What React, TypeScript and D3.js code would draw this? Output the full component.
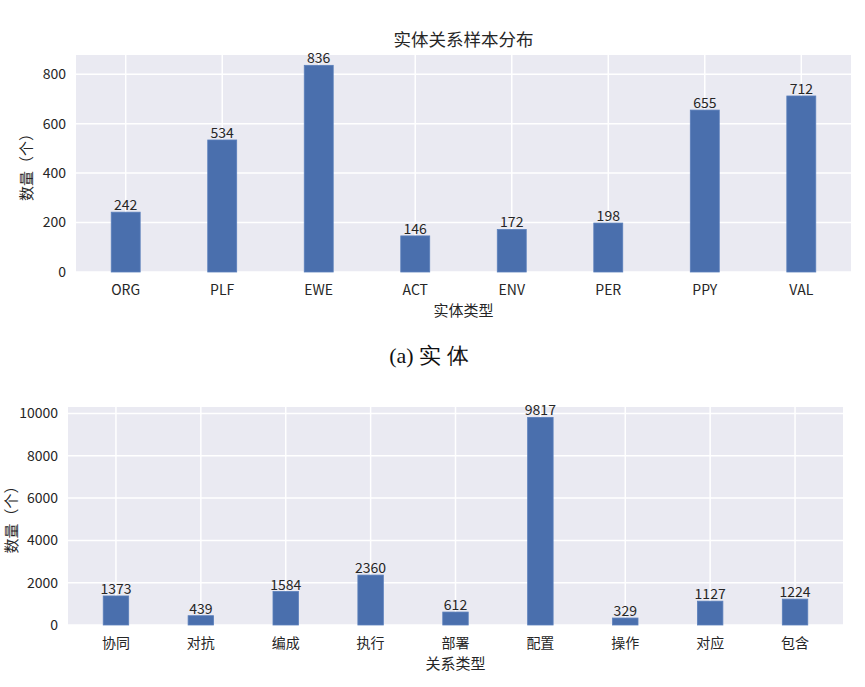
import * as d3 from "d3";
import { useEffect, useRef } from "react";

// 实体
const entityTypes = ["ORG", "PLF", "EWE", "ACT", "ENV", "PER", "PPY", "VAL"];
const entityCounts = [242, 534, 836, 146, 172, 198, 655, 712];
const entityTicks = [0, 200, 400, 600, 800];

// 关系
const relationTypes = ["协同", "对抗", "编成", "执行", "部署", "配置", "操作", "对应", "包含"];
const relationCounts = [1373, 439, 1584, 2360, 612, 9817, 329, 1127, 1224];
const relationTicks = [0, 2000, 4000, 6000, 8000, 10000];

const FONT = "'Noto Sans CJK SC', 'Noto Sans', sans-serif";
const BG = "#eaeaf2";
const BAR = "#4a6fad";
const TXT = "#262626";

const drawPanel = (svg, opt) => {
    const { cats, vals, ticks, box, title, xLabel, yLabel, yLabelX } = opt;
    const barW = 0.3;
    const lo = -barW / 2, hi = cats.length - 1 + barW / 2;
    const pad = (hi - lo) * 0.05;

    const x = d3.scaleLinear().domain([lo - pad, hi + pad]).range([box.left, box.right]);
    const y = d3.scaleLinear().domain([0, d3.max(vals) * 1.05]).range([box.bottom, box.top]);

    const g = svg.append("g");

    g.append("rect")
        .attr("x", box.left)
        .attr("y", box.top)
        .attr("width", box.right - box.left)
        .attr("height", box.bottom - box.top)
        .attr("fill", BG);

    // grid
    g.selectAll(".hgrid")
        .data(ticks)
        .enter()
        .append("line")
        .attr("x1", box.left)
        .attr("x2", box.right)
        .attr("y1", d => y(d))
        .attr("y2", d => y(d))
        .attr("stroke", "#fff")
        .attr("stroke-width", 1.5);

    g.selectAll(".vgrid")
        .data(cats)
        .enter()
        .append("line")
        .attr("x1", (d, i) => x(i))
        .attr("x2", (d, i) => x(i))
        .attr("y1", box.top)
        .attr("y2", box.bottom)
        .attr("stroke", "#fff")
        .attr("stroke-width", 1.5);

    // bars
    g.selectAll(".bar")
        .data(vals)
        .enter()
        .append("rect")
        .attr("x", (d, i) => x(i - barW / 2))
        .attr("y", d => y(d))
        .attr("width", x(barW) - x(0))
        .attr("height", d => y(0) - y(d))
        .attr("fill", BAR)
        .attr("stroke", "#5a7fbb")
        .attr("stroke-width", 0.8);

    // value labels
    g.selectAll(".val")
        .data(vals)
        .enter()
        .append("text")
        .attr("x", (d, i) => x(i))
        .attr("y", d => y(d) - 2)
        .attr("text-anchor", "middle")
        .attr("font-size", 14)
        .attr("fill", TXT)
        .text(d => d);

    // y tick labels
    g.selectAll(".ytick")
        .data(ticks)
        .enter()
        .append("text")
        .attr("x", box.left - 10)
        .attr("y", d => y(d))
        .attr("dy", "0.35em")
        .attr("text-anchor", "end")
        .attr("font-size", 14)
        .attr("fill", TXT)
        .text(d => d);

    // x tick labels
    g.selectAll(".xtick")
        .data(cats)
        .enter()
        .append("text")
        .attr("x", (d, i) => x(i))
        .attr("y", box.bottom + 23)
        .attr("text-anchor", "middle")
        .attr("font-size", 14)
        .attr("fill", TXT)
        .text(d => d);

    const midX = (box.left + box.right) / 2;
    const midY = (box.top + box.bottom) / 2;

    g.append("text")
        .attr("x", midX)
        .attr("y", box.bottom + 44)
        .attr("text-anchor", "middle")
        .attr("font-size", 15)
        .attr("fill", TXT)
        .text(xLabel);

    g.append("text")
        .attr("transform", `translate(${yLabelX}, ${midY}) rotate(-90)`)
        .attr("text-anchor", "middle")
        .attr("dy", "0.35em")
        .attr("font-size", 15)
        .attr("fill", TXT)
        .text(yLabel);

    if (title) {
        g.append("text")
            .attr("x", midX)
            .attr("y", box.top - 9)
            .attr("text-anchor", "middle")
            .attr("font-size", 17.5)
            .attr("fill", TXT)
            .text(title);
    }
};

const App = () => {
    const chartRef = useRef(null);

    useEffect(() => {
        const svg = d3.select(chartRef.current);
        svg.selectAll("*").remove();
        svg.style("font-family", FONT);

        svg.append("rect").attr("width", 865).attr("height", 687).attr("fill", "#fff");

        drawPanel(svg, {
            cats: entityTypes,
            vals: entityCounts,
            ticks: entityTicks,
            box: { left: 76, right: 851, top: 55, bottom: 272 },
            title: "实体关系样本分布",
            xLabel: "实体类型",
            yLabel: "数量（个）",
            yLabelX: 27
        });

        svg.append("text")
            .attr("x", 429)
            .attr("y", 363)
            .attr("text-anchor", "middle")
            .attr("font-size", 22)
            .attr("font-family", "'Liberation Serif', 'Times New Roman', serif")
            .attr("fill", "#111")
            .text("(a) 实 体");

        drawPanel(svg, {
            cats: relationTypes,
            vals: relationCounts,
            ticks: relationTicks,
            box: { left: 68, right: 843, top: 407, bottom: 625 },
            title: null,
            xLabel: "关系类型",
            yLabel: "数量（个）",
            yLabelX: 12
        });
    }, []);

    return (
        <svg ref={chartRef} width={865} height={687}
            style={{ position: "absolute", left: 0, top: 0 }}></svg>
    );
};

export default App;
